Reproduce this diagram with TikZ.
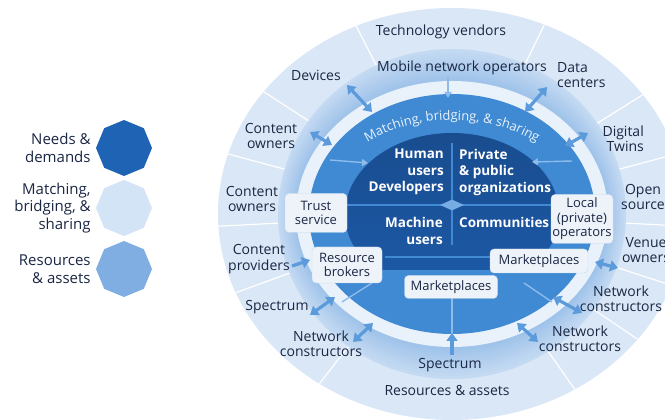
\documentclass[tikz,border=0pt]{standalone}
\usepackage{fontspec}
\setmainfont{Open Sans}
\usetikzlibrary{positioning, shapes.geometric, decorations.text, arrows.meta}

\definecolor{deepblue}{HTML}{1D5AA8}
\definecolor{midblue}{HTML}{3F8AD3}
\definecolor{ringpale}{HTML}{E9F1FB}
\definecolor{bandout}{HTML}{C4DAF2}
\definecolor{bandin}{HTML}{A0C3EA}
\definecolor{outerpale}{HTML}{D9E7F7}
\definecolor{arrowblue}{HTML}{5B9BDB}
\definecolor{faintblue}{HTML}{8DBBEA}
\definecolor{ink}{HTML}{1A2744}
\definecolor{tagfill}{HTML}{EEF3FA}
\definecolor{tagedge}{HTML}{C8D7EA}
\definecolor{keydark}{HTML}{1F63B4}
\definecolor{keylight}{HTML}{D4E4F7}
\definecolor{keymid}{HTML}{80AEE3}

\tikzset{
  lbl/.style={align=center, text=ink, inner sep=0pt, font=\fontsize{14}{15.5}\selectfont},
  core/.style={text=white, inner sep=0pt, font=\bfseries\fontsize{13.5}{16.5}\selectfont},
  tag/.style={draw=tagedge, fill=tagfill, rounded corners=4pt, align=center, text=ink,
    inner sep=0pt, font=\fontsize{13}{14.5}\selectfont},
  legendtxt/.style={align=right, text=ink, inner sep=0pt, font=\fontsize{15}{17.5}\selectfont},
  octa/.style={regular polygon, regular polygon sides=8, shape border rotate=22.5,
    minimum size=56pt, inner sep=0pt},
  gem/.style={diamond, fill=faintblue!70!midblue, minimum width=24pt, minimum height=11pt, inner sep=0pt},
  link/.style={draw=arrowblue, line width=3.2pt, <->},
  oneway/.style={draw=arrowblue, line width=3.2pt, ->},
  faint/.style={draw=faintblue, line width=1.4pt},
  faintarrow/.style={draw=faintblue, line width=1.4pt, -{Triangle[length=6pt, width=7pt]}},
  rule/.style={draw=midblue, line width=1.2pt},
}

\begin{document}
\begin{tikzpicture}[x=1pt, y=1pt, >={Triangle[length=8pt, width=11pt]}]
  \useasboundingbox (0,0) rectangle (665,420);
  \clip (0,0) rectangle (665,420);
  \fill[white] (0,0) rectangle (665,420);
  \coordinate (C) at (452,206);

  % rings, outside in
  \fill[outerpale] (C) ellipse [x radius=234, y radius=206];
  \begin{scope}
    \clip (C) ellipse [x radius=234, y radius=206];
    \foreach \a in {117,64,147,32,165,15,183,-3,200,-18,232,305,326}
      \draw[white, line width=1.2pt] (C) -- ++(\a:320);
  \end{scope}
  \foreach \i in {0,...,9}{
    \pgfmathsetmacro\rx{174-1.8*\i}
    \pgfmathsetmacro\ry{165-3.2*\i}
    \pgfmathtruncatemacro\mix{11*\i}
    \fill[bandin!\mix!bandout] (C) ellipse [x radius=\rx, y radius=\ry];
  }
  \fill[ringpale] (C) ellipse [x radius=156, y radius=133];
  \fill[midblue] (C) ellipse [x radius=143, y radius=120];
  \begin{scope}
    \clip (0,150) rectangle (665,420);
    \shade[top color=deepblue!85!black, bottom color=deepblue] (C) ellipse [x radius=107, y radius=81];
  \end{scope}

  \path[decorate, decoration={text along path, text align=center, text color=ringpale,
      text={|\fontsize{13}{13}\selectfont|Matching, bridging, {\&} sharing}}]
    (C) ++(148:130 and 94) arc [start angle=148, end angle=32, x radius=130, y radius=94];

  % quadrants of the core
  \draw[rule] (452,277) -- (452,175);
  \draw[rule] (346,215) -- (558,215);
  \draw[rule] (385,163) -- (507,163);
  \node[gem] (hub) at (452,215) {};

  \node[core, anchor=east, align=right] (human) at (444,248) {Human\\users\\Developers};
  \node[core, anchor=west, align=left] (orgs) at (459,248) {Private\\\& public\\organizations};
  \node[core, anchor=east, align=right] (machine) at (443,189) {Machine\\users};
  \node[core, anchor=west] (comm) at (459,198) {Communities};

  % thin inner arrows and spokes
  \foreach \n/\xa/\ya/\xb/\yb in {mnoin/448/343/448/322, lin/330/260/368/257, rin/572/259/532/258}{
    \coordinate (\n-a) at (\xa,\ya);
    \coordinate (\n-b) at (\xb,\yb);
    \draw[faintarrow] (\n-a) -- (\n-b);
  }
  \foreach \n/\xa/\ya/\xb/\yb in {sp1/452/122/452/86, sp2/372/137/342/118, sp3/524/137/552/118}{
    \coordinate (\n-a) at (\xa,\ya);
    \coordinate (\n-b) at (\xb,\yb);
    \draw[faint] (\n-a) -- (\n-b);
  }

  % boxes
  \node[tag, minimum width=62pt, minimum height=39pt] (trust) at (316,207) {Trust\\service};
  \node[tag, minimum width=70pt, minimum height=36pt] (broker) at (347,155) {Resource\\brokers};
  \node[tag, minimum width=93pt, minimum height=23pt] (mktlow) at (451,133) {Marketplaces};
  \node[tag, minimum width=98pt, minimum height=24pt] (mktright) at (539,159) {Marketplaces};
  \node[tag, minimum width=62pt, minimum height=49pt] (local) at (582,201) {Local\\(private)\\operators};

  % outer labels
  \node[lbl] (tech) at (441,388) {Technology vendors};
  \node[lbl] (mno) at (462,352) {Mobile network operators};
  \node[lbl] (dev) at (316,345) {Devices};
  \node[lbl, anchor=west, align=left] (dc) at (557,345) {Data\\centers};
  \node[lbl] (cown) at (271,284) {Content\\owners};
  \node[lbl, anchor=east, align=right] (twin) at (644,281) {Digital\\Twins};
  \node[lbl] (cownb) at (252,221) {Content\\owners};
  \node[lbl] (open) at (643,223) {Open\\source};
  \node[lbl] (venue) at (646,170) {Venue\\owners};
  \node[lbl] (cprov) at (259,161) {Content\\providers};
  \node[lbl] (specl) at (277,113) {Spectrum};
  \node[lbl] (netl) at (321,76) {Network\\constructors};
  \node[lbl] (specb) at (450,55) {Spectrum};
  \node[lbl] (res) at (447,30) {Resources \& assets};
  \node[lbl] (netb) at (580,81) {Network\\constructors};
  \node[lbl] (netr) at (621,121) {Network\\constructors};

  % arrows between the rings
  \foreach \n/\xa/\ya/\xb/\yb in {dev/347/335/372/308, dc/547/333/525/308, cown/310/288/332/275,
      twin/588/287/565/274, specl/310/105/335/123, netl/353/78/373/97, netb/538/78/517/97,
      netr/582/107/553/123, venue/618/152/595/158}{
    \coordinate (\n-out) at (\xa,\ya);
    \coordinate (\n-in) at (\xb,\yb);
    \draw[link] (\n-out) -- (\n-in);
  }
  \coordinate (cprov-out) at (292,154);
  \coordinate (cprov-in) at (310,160);
  \draw[oneway] (cprov-out) -- (cprov-in);
  \coordinate (specb-out) at (452,65);
  \coordinate (specb-in) at (452,87);
  \draw[oneway] (specb-out) -- (specb-in);

  % legend
  \node[octa, fill=keydark] (kneeds) at (124,272) {};
  \node[octa, fill=keylight] (kmatch) at (124,212) {};
  \node[octa, fill=keymid] (kres) at (124,151) {};
  \node[legendtxt, left=5pt of kneeds] (tneeds) {Needs \&\\demands};
  \node[legendtxt, left=5pt of kmatch] (tmatch) {Matching,\\bridging, \&\\sharing};
  \node[legendtxt, left=5pt of kres] (tres) {Resources\\\& assets};
\end{tikzpicture}
\end{document}
